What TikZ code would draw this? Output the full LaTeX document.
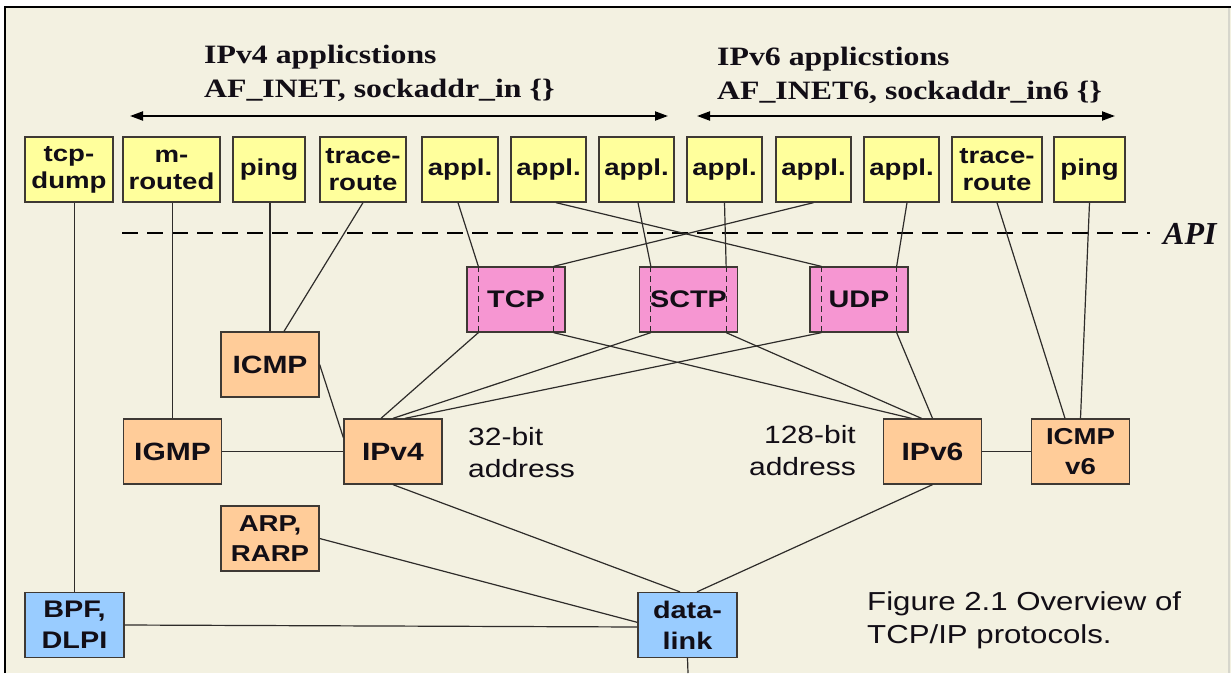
\documentclass[tikz,border=0pt]{standalone}
\usepackage{fontspec}
\usetikzlibrary{arrows.meta,calc}
\newfontfamily\boxfont[FakeStretch=1.2]{Liberation Sans}
\newfontfamily\headfont[FakeStretch=1.2]{Liberation Serif}
\newfontfamily\apifont{Liberation Serif}
\definecolor{paper}{HTML}{F3F1E1}
\definecolor{appfill}{HTML}{FFFF9C}
\definecolor{tpfill}{HTML}{F696D2}
\definecolor{netfill}{HTML}{FFCC99}
\definecolor{linkfill}{HTML}{99CCFF}
\definecolor{edge}{HTML}{3E3934}
\definecolor{wire}{HTML}{2E2C2A}
\definecolor{ink}{HTML}{120E16}
\definecolor{faint}{HTML}{D6D6CC}
\tikzset{
  anybox/.style={draw=edge, line width=1.3pt, minimum height=65pt, inner sep=0pt,
    align=center, text=ink},
  appbox/.style={anybox, fill=appfill, font={\boxfont\bfseries\fontsize{23}{27}\selectfont}},
  tpbox/.style={anybox, fill=tpfill, minimum width=98pt, font={\boxfont\bfseries\fontsize{24}{28}\selectfont}},
  netbox/.style={anybox, fill=netfill, minimum width=98pt, font={\boxfont\bfseries\fontsize{25}{30}\selectfont}},
  smallnet/.style={netbox, font={\boxfont\bfseries\fontsize{23}{30}\selectfont}},
  linkbox/.style={anybox, fill=linkfill, minimum width=99pt, font={\boxfont\bfseries\fontsize{24}{31}\selectfont}},
  wirestyle/.style={draw=wire, line width=1.2pt},
  passthru/.style={draw=wire, line width=1.2pt, dash pattern=on 6pt off 4pt},
  apiline/.style={draw=black, line width=2pt, dash pattern=on 16pt off 9pt},
  scope arrow/.style={draw=black, line width=2pt,
    {Triangle[length=13pt,width=9pt]}-{Triangle[length=13pt,width=9pt]}},
  heading/.style={anchor=north west, inner sep=0pt, align=left, text=ink,
    font={\headfont\bfseries\fontsize{26.5}{34}\selectfont}},
  note/.style={inner sep=0pt, text=ink, font={\boxfont\fontsize{25}{32}\selectfont}},
}
\begin{document}
\begin{tikzpicture}[x=1pt,y=-1pt]
\useasboundingbox (0,0) rectangle (1231,673);
% slide background and frame
\fill[white] (0,0) rectangle (1231,673);
\fill[paper] (5,7) rectangle (1231,673);
\draw[black, line width=2pt] (5,673) -- (5,7) -- (1231,7);
\draw[faint, line width=1.2pt] (1229,8) -- (1229,673);

% headings with their ranges
\node[heading] (hfour) at (204,45) {IPv4 applicstions\\AF\_INET, sockaddr\_in \{\}};
\node[heading] (hsix) at (717,47) {IPv6 applicstions\\AF\_INET6, sockaddr\_in6 \{\}};
\coordinate (fourL) at (130,116);
\coordinate (fourR) at (668,116);
\coordinate (sixL) at (697,116);
\coordinate (sixR) at (1115,116);
\draw[scope arrow] (fourL) -- (fourR);
\draw[scope arrow] (sixL) -- (sixR);

% application row
\node[appbox, minimum width=88pt] (tcpdump) at (69,169.5) {tcp-\\dump};
\node[appbox, minimum width=97pt] (mrouted) at (171.5,169.5) {m-\\routed};
\node[appbox, minimum width=72pt] (pingA) at (269,169.5) {ping};
\node[appbox, minimum width=86pt] (traceA) at (363,169.5) {trace-\\route};
\node[appbox, minimum width=76pt] (applA) at (460,169.5) {appl.};
\node[appbox, minimum width=75pt] (applB) at (548.5,169.5) {appl.};
\node[appbox, minimum width=75pt] (applC) at (636.5,169.5) {appl.};
\node[appbox, minimum width=75pt] (applD) at (724.5,169.5) {appl.};
\node[appbox, minimum width=75pt] (applE) at (813.5,169.5) {appl.};
\node[appbox, minimum width=75pt] (applF) at (901.5,169.5) {appl.};
\node[appbox, minimum width=90pt] (traceB) at (997,169.5) {trace-\\route};
\node[appbox, minimum width=71pt] (pingB) at (1089.5,169.5) {ping};

% API boundary
\coordinate (apiL) at (122,233);
\coordinate (apiR) at (1150,233);
\draw[apiline] (apiL) -- (apiR);
\node[anchor=west, inner sep=0pt, text=ink,
  font={\apifont\bfseries\itshape\fontsize{32}{34}\selectfont}] (api) at (1163,234) {API};

% transport layer
\node[tpbox] (tcp) at (516,299.5) {TCP};
\node[tpbox] (sctp) at (688.5,299.5) {SCTP};
\node[tpbox] (udp) at (859,299.5) {UDP};
\foreach \p in {tcp,sctp,udp}{
  \coordinate (\p Lt) at ($(\p.north west)+(12,0)$);
  \coordinate (\p Lb) at ($(\p.south west)+(12,0)$);
  \coordinate (\p Rt) at ($(\p.north east)+(-12,0)$);
  \coordinate (\p Rb) at ($(\p.south east)+(-12,0)$);
  \draw[passthru] (\p Lt) -- (\p Lb);
  \draw[passthru] (\p Rt) -- (\p Rb);
}

% network layer
\node[netbox] (icmp) at (270,364.5) {ICMP};
\node[netbox] (igmp) at (172.5,451.5) {IGMP};
\node[netbox] (ipv4) at (393,451.5) {IPv4};
\node[netbox] (ipv6) at (932.5,451.5) {IPv6};
\node[smallnet] (icmpsix) at (1080.5,451.5) {ICMP\\v6};
\node[smallnet] (arp) at (270,538.5) {ARP,\\RARP};

% link layer
\node[linkbox] (bpf) at (74.5,625) {BPF,\\DLPI};
\node[linkbox] (dlink) at (687.5,625) {data-\\link};
\coordinate (wirebottom) at (688,673);

% address notes and caption
\node[note, anchor=north west, align=left] (fouraddr) at (468,427) {32-bit\\address};
\node[note, anchor=north east, align=right] (sixaddr) at (856,425) {128-bit\\address};
\node[note, anchor=north west, align=left, font={\boxfont\fontsize{26}{33}\selectfont}]
  (caption) at (867,591) {Figure 2.1 Overview of\\TCP/IP protocols.};

% applications down to the protocols
\draw[wirestyle] (bpf.north) -- (bpf.north |- tcpdump.south);
\draw[wirestyle] (igmp.north) -- (igmp.north |- mrouted.south);
\draw[wirestyle] (icmp.north) -- (icmp.north |- pingA.south);
\draw[wirestyle] (traceA.south) -- ($(icmp.north)+(14,0)$);
\draw[wirestyle] ($(applA.south)+(-2,0)$) -- (tcpLt);
\draw[wirestyle] ($(applB.south)+(7.5,0)$) -- (udpLt);
\draw[wirestyle] ($(applC.south)+(1.5,0)$) -- (sctpLt);
\draw[wirestyle] (applD.south) -- (sctpRt);
\draw[wirestyle] (applE.south) -- (tcpRt);
\draw[wirestyle] ($(applF.south)+(5.5,0)$) -- (udpRt);
\draw[wirestyle] (traceB.south) -- ($(icmpsix.north)+(-15.5,0)$);
\draw[wirestyle] (pingB.south) -- (icmpsix.north);

% transport down to IPv4 / IPv6
\draw[wirestyle] (tcpLb) -- ($(ipv4.north)+(-12,0)$);
\draw[wirestyle] (sctpLb) -- (ipv4.north);
\draw[wirestyle] (udpLb) -- ($(ipv4.north)+(12,0)$);
\draw[wirestyle] (tcpRb) -- ($(ipv6.north)+(-21,0)$);
\draw[wirestyle] (sctpRb) -- ($(ipv6.north)+(-11,0)$);
\draw[wirestyle] (udpRb) -- (ipv6.north);

% network layer links
\draw[wirestyle] (icmp.east) -- ($(ipv4.north west)!0.29!(ipv4.south west)$);
\draw[wirestyle] (igmp.east) -- (ipv4.west);
\draw[wirestyle] (ipv6.east) -- (icmpsix.west);
\draw[wirestyle] (ipv4.south) -- ($(dlink.north)+(-7.5,0)$);
\draw[wirestyle] (ipv6.south) -- ($(dlink.north)+(9.5,0)$);
\draw[wirestyle] (arp.east) -- ($(dlink.north west)!0.46!(dlink.south west)$);
\draw[wirestyle] (bpf.east) -- ($(dlink.north west)!0.53!(dlink.south west)$);
\draw[wirestyle] (dlink.south) -- (wirebottom);
\end{tikzpicture}
\end{document}
